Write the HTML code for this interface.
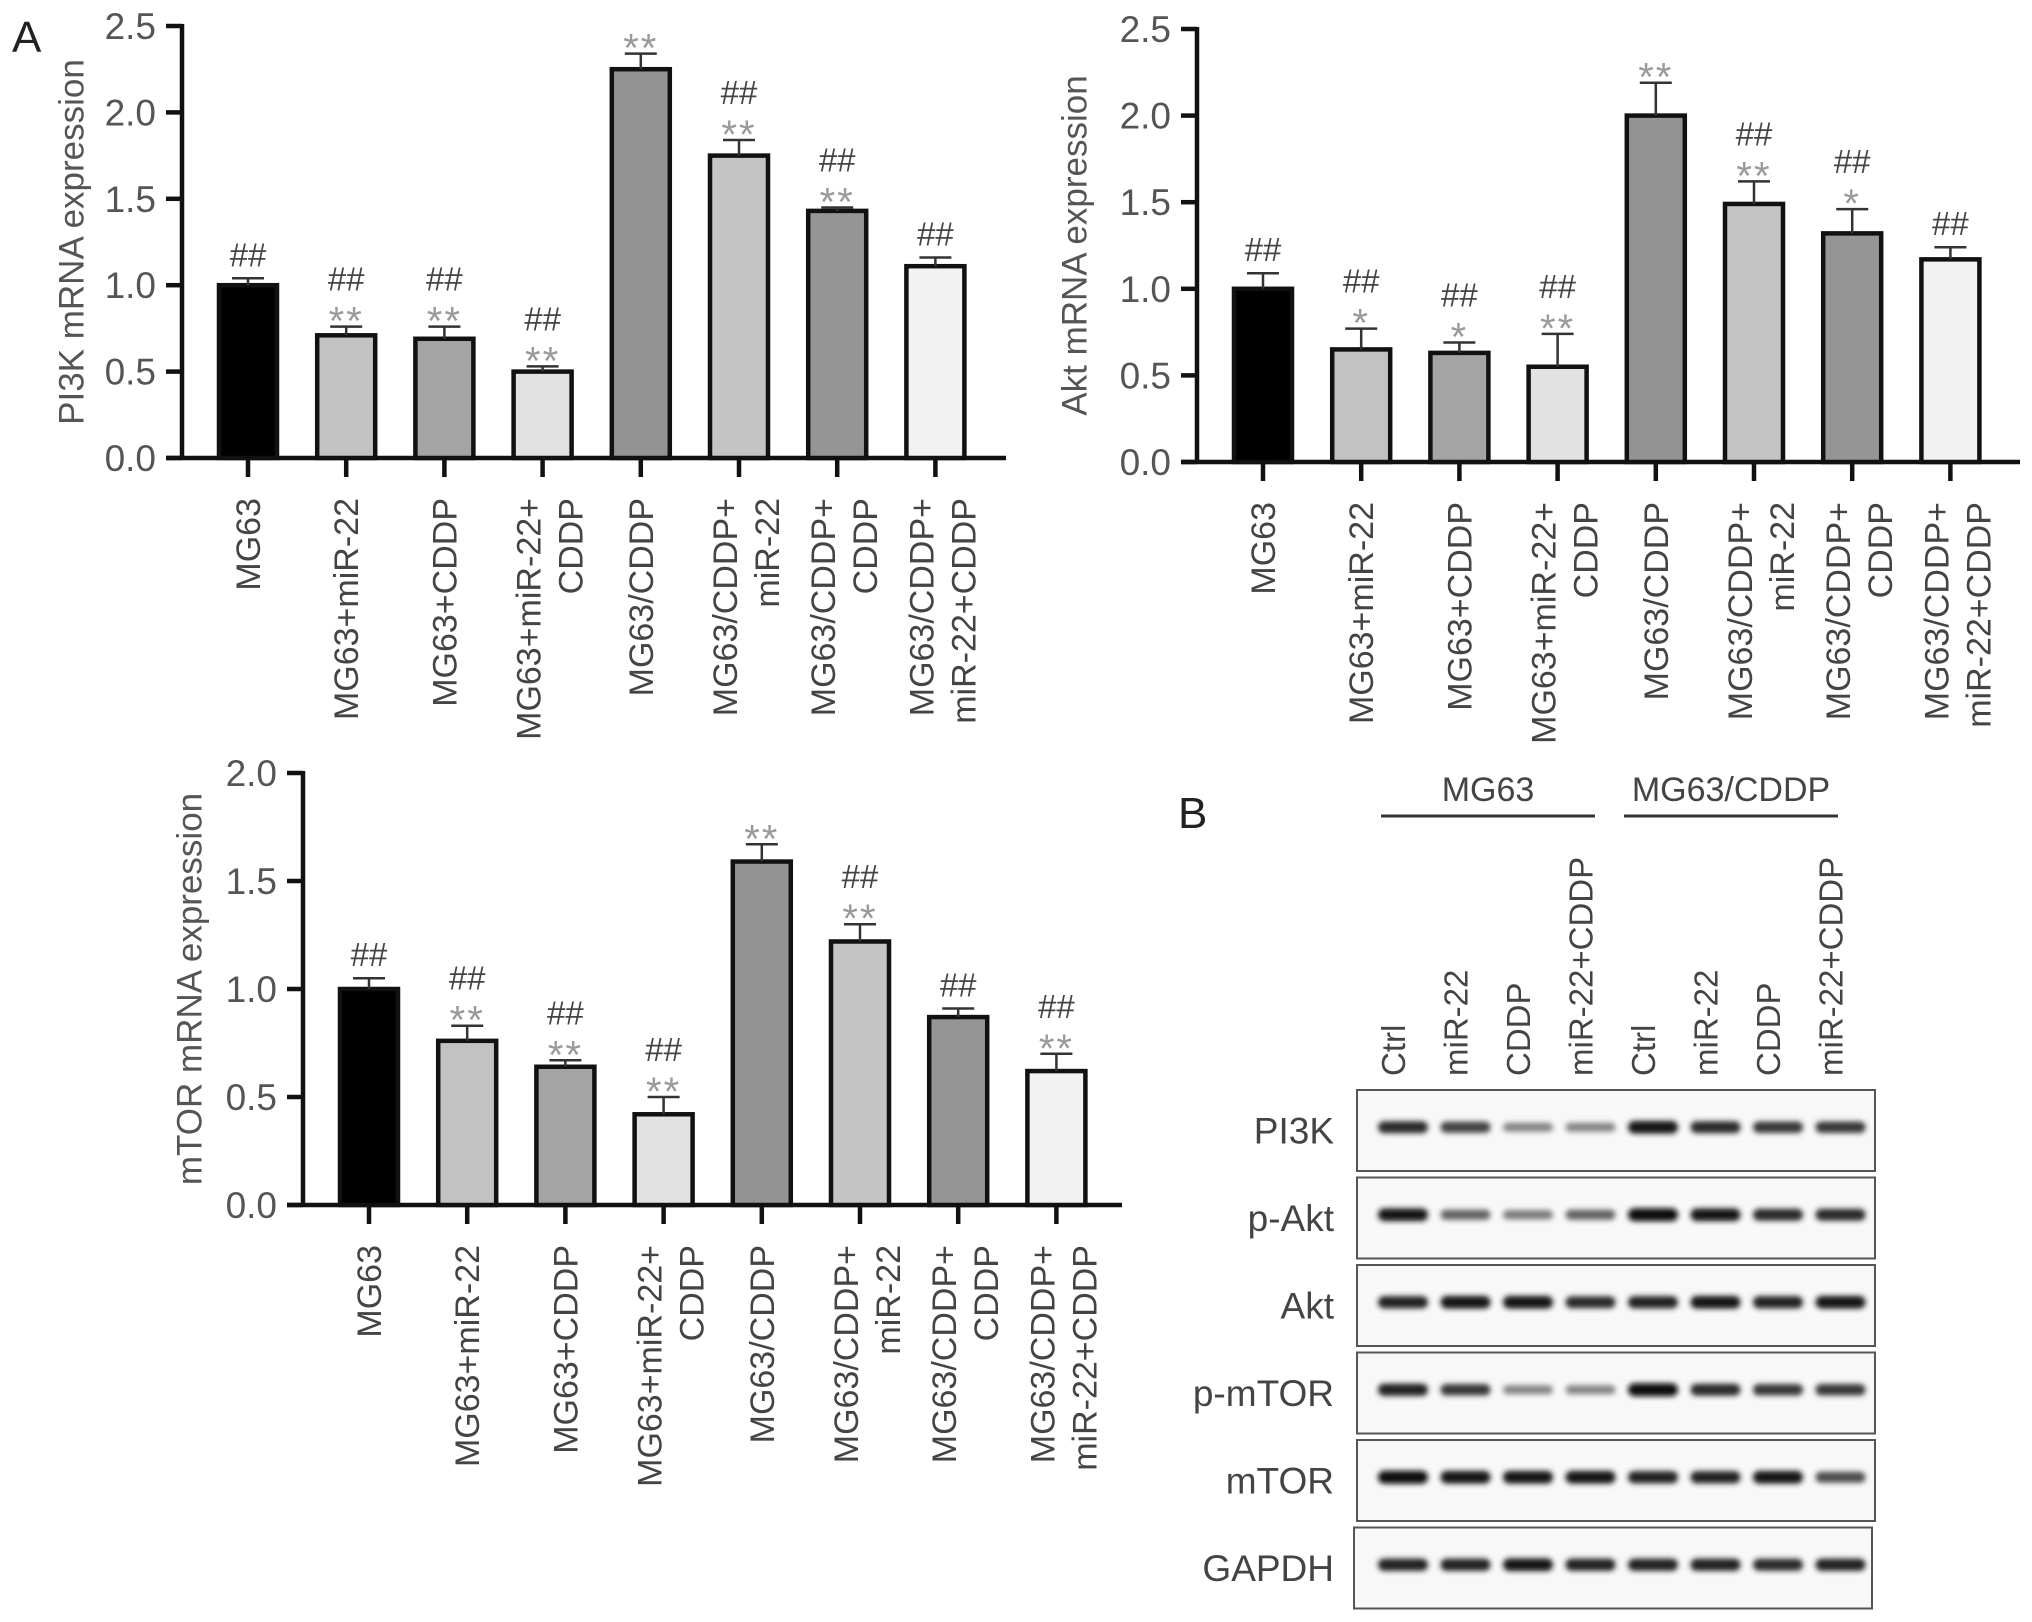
<!DOCTYPE html>
<html><head><meta charset="utf-8"><style>
html,body{margin:0;padding:0;background:#fff;}
svg{display:block;font-family:"Liberation Sans",Arial,sans-serif;}
</style></head><body>
<svg id="fig" width="2032" height="1622" viewBox="0 0 2032 1622" xmlns="http://www.w3.org/2000/svg">
<defs><filter id="blur" x="-30%" y="-100%" width="160%" height="300%"><feGaussianBlur stdDeviation="2.6"/></filter></defs>
<text x="12" y="52" font-size="44" fill="#222">A</text>
<text x="1178" y="828" font-size="44" fill="#222">B</text>
</svg>
<script>
// ---- shared categories ----
const categories = [["MG63"],["MG63+miR-22"],["MG63+CDDP"],["MG63+miR-22+","CDDP"],["MG63/CDDP"],["MG63/CDDP+","miR-22"],["MG63/CDDP+","CDDP"],["MG63/CDDP+","miR-22+CDDP"]];
const barFills = ["#000000","#c2c2c2","#a4a4a4","#e2e2e2","#939393","#c4c4c4","#959595","#f2f2f2"];
// ---- PI3K ----
const pi3kValues = [1.0,0.71,0.69,0.50,2.25,1.75,1.43,1.11];
const pi3kErrors = [0.04,0.05,0.07,0.03,0.09,0.09,0.02,0.05];
const pi3kStars = ["","**","**","**","**","**","**",""];
const pi3kHash = [1,1,1,1,0,1,1,1];
const pi3kTicks = [0,0.5,1.0,1.5,2.0,2.5];
// ---- Akt ----
const aktValues = [1.0,0.65,0.63,0.55,2.0,1.49,1.32,1.17];
const aktErrors = [0.09,0.12,0.06,0.19,0.19,0.13,0.14,0.07];
const aktStars = ["","*","*","**","**","**","*",""];
const aktHash = [1,1,1,1,0,1,1,1];
const aktTicks = [0,0.5,1.0,1.5,2.0,2.5];
// ---- mTOR ----
const mtorValues = [1.0,0.76,0.64,0.42,1.59,1.22,0.87,0.62];
const mtorErrors = [0.05,0.07,0.03,0.08,0.08,0.08,0.04,0.08];
const mtorStars = ["","**","**","**","**","**","","**"];
const mtorHash = [1,1,1,1,0,1,1,1];
const mtorTicks = [0,0.5,1.0,1.5,2.0];
// ---- Western blot ----
const blotRows = ["PI3K","p-Akt","Akt","p-mTOR","mTOR","GAPDH"];
const laneLabels = ["Ctrl","miR-22","CDDP","miR-22+CDDP","Ctrl","miR-22","CDDP","miR-22+CDDP"];
const groupLabels = ["MG63","MG63/CDDP"];
const bandPI3K = [0.85,0.75,0.45,0.45,0.95,0.85,0.8,0.8];
const bandPAkt = [0.95,0.6,0.5,0.6,1.0,0.95,0.85,0.85];
const bandAkt = [0.9,0.95,0.95,0.85,0.9,0.95,0.9,0.95];
const bandPmTOR = [0.9,0.8,0.45,0.45,1.0,0.85,0.8,0.8];
const bandmTOR = [1.0,0.95,0.95,0.95,0.9,0.9,0.95,0.7];
const bandGAPDH = [0.9,0.9,0.95,0.9,0.9,0.9,0.85,0.9];

const NS="http://www.w3.org/2000/svg";
const svg=document.getElementById('fig');
function mk(tag,attrs,parent){const e=document.createElementNS(NS,tag);for(const k in attrs)e.setAttribute(k,attrs[k]);(parent||svg).appendChild(e);return e;}

function drawChart(key,title,axisX,y0,yMax,yTop,xEnd,values,errors,stars,hash,ticks,titleX){
  const g=mk('g',{});
  
  
  const yScale=v=>y0-(v/yMax)*(y0-yTop);
  const step=98.2, first=axisX+66;
  const xScale=i=>first+i*step;
  // y axis
  const ya=mk('line',{x1:axisX,y1:yTop-2,x2:axisX,y2:y0+2,stroke:'#111','stroke-width':4.5},g);
  
  
  const xa=mk('line',{x1:axisX-16,y1:y0,x2:xEnd,y2:y0,stroke:'#111','stroke-width':4.5},g);
  
  
  ticks.forEach(t=>{
    const y=yScale(t);
    mk('line',{x1:axisX-16,y1:y,x2:axisX,y2:y,stroke:'#111','stroke-width':4.5},g);
    const tl=mk('text',{x:axisX-26,y:y+13,'font-size':37,fill:'#555','text-anchor':'end'},g);
    tl.textContent=t.toFixed(1);
    
    
  });
  const cy=(yTop+y0)/2;
  const tt=mk('text',{x:titleX,y:cy,'font-size':35,fill:'#555','text-anchor':'middle',transform:`rotate(-90 ${titleX} ${cy})`,'dominant-baseline':'central'},g);
  tt.textContent=title;
  
  
  values.forEach((v,i)=>{
    const cx=xScale(i), w=58, top=yScale(v);
    const r=mk('rect',{x:cx-w/2,y:top,width:w,height:y0-top,fill:barFills[i],stroke:'#111','stroke-width':4.5},g);
    
    
    const cap=yScale(v+errors[i]);
    const eb=mk('path',{d:`M${cx},${top} V${cap} M${cx-16},${cap} H${cx+16}`,stroke:'#333','stroke-width':2.5,fill:'none'},g);
    
    
    mk('line',{x1:cx,y1:y0,x2:cx,y2:y0+19,stroke:'#111','stroke-width':4.5},g);
    let hashCenter=cap-24;
    if(stars[i]){
      const s=mk('text',{x:cx,y:cap-14+22,'font-size':40,fill:'#9a9a9a','text-anchor':'middle','letter-spacing':2},g);
      s.textContent=stars[i];
      
      
      hashCenter=cap-48;
    }
    if(hash[i]){
      const h=mk('text',{x:cx,y:hashCenter+12,'font-size':33,fill:'#444','text-anchor':'middle'},g);
      h.textContent='##';
      
      
    }
    const lines=categories[i];
    const top0=y0+40;
    const offs=lines.length===1?[12]:[-2,40];
    lines.forEach((ln,j)=>{
      const lx=cx+offs[j];
      const t=mk('text',{x:lx,y:top0,'font-size':34,fill:'#444','text-anchor':'end',transform:`rotate(-90 ${lx} ${top0})`},g);
      t.textContent=ln;
      
      
    });
  });
}
drawChart('pi3k','PI3K mRNA expression',182,458,2.5,26,1006,pi3kValues,pi3kErrors,pi3kStars,pi3kHash,pi3kTicks,72);
drawChart('akt','Akt mRNA expression',1197,462,2.5,29,2020,aktValues,aktErrors,aktStars,aktHash,aktTicks,1075);
drawChart('mtor','mTOR mRNA expression',303,1205,2.0,773,1122,mtorValues,mtorErrors,mtorStars,mtorHash,mtorTicks,190);

// ---- blot ----
const bandData=[bandPI3K,bandPAkt,bandAkt,bandPmTOR,bandmTOR,bandGAPDH];
const bg=mk('g',{});


const laneX=i=>1402+i*62.5;
// group headers
groupLabels.forEach((gl,k)=>{
  const x1=k===0?1381:1624, x2=k===0?1595:1838;
  const t=mk('text',{x:(x1+x2)/2,y:801,'font-size':34,fill:'#444','text-anchor':'middle'},bg);
  t.textContent=gl;
  
  
  const l=mk('line',{x1:x1,y1:816,x2:x2,y2:816,stroke:'#333','stroke-width':3},bg);
  
  
});
laneLabels.forEach((ll,i)=>{
  const x=laneX(i)+3, y=1076;
  const t=mk('text',{x:x,y:y,'font-size':33,fill:'#444','text-anchor':'start',transform:`rotate(-90 ${x} ${y})`},bg);
  t.textContent=ll;
  
  
});
blotRows.forEach((rn,r)=>{
  const top=1090+r*87.5, h=81;
  const left=r===5?1354:1357, right=r===5?1872:1875;
  const box=mk('rect',{x:left,y:top,width:right-left,height:h,fill:'#f8f8f8',stroke:'#555','stroke-width':2},bg);
  
  
  const t=mk('text',{x:1334,y:top+h/2+13,'font-size':37,fill:'#444','text-anchor':'end'},bg);
  t.textContent=rn;
  
  
  bandData[r].forEach((d,i)=>{
    const cx=laneX(i)+1, cy=top+h*0.46;
    const g=Math.round(235-d*225);
    const bh=6+d*7;
    const b=mk('rect',{x:cx-25,y:cy-bh/2,width:50,height:bh,rx:bh/2,fill:`rgb(${g},${g},${g})`,filter:'url(#blur)'},bg);
    
    
  });
});
</script>
</body></html>
